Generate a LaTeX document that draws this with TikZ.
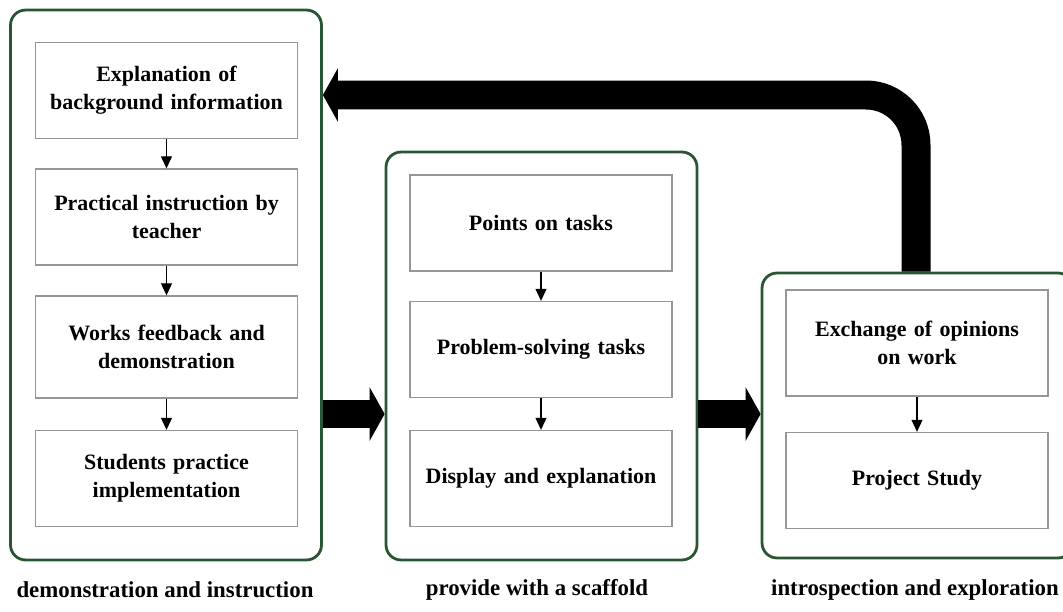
\documentclass[tikz,border=0pt]{standalone}
\usepackage{fontspec}
\setmainfont{Liberation Serif}
\usetikzlibrary{positioning, calc, arrows.meta}
\definecolor{frGreen}{RGB}{40, 85, 50}
\definecolor{frGray}{RGB}{150, 150, 150}
\tikzset{
    base/.style={
        font=\fontsize{12.5}{16}\selectfont\bfseries,
        align=center
    },
    phase/.style={
        rectangle,
        rounded corners=3mm,
        draw=frGreen,
        line width=1.6pt,
        minimum width=6.22cm
    },
    stage/.style={
        base,
        rectangle,
        draw=frGray,
        line width=0.8pt,
        minimum width=5.18cm,
        minimum height=1.92cm,
        text width=5cm
    },
    link/.style={
        -{Triangle[length=2.4mm, width=2.2mm]},
        line width=0.6pt
    },
    bigarrow/.style={
        line width=0.58cm,
        -{Triangle[length=3mm, width=1.06cm]}
    },
    phasename/.style={
        base,
        font=\fontsize{13}{15}\selectfont\bfseries
    }
}

\begin{document}
\begin{tikzpicture}[x=0.02cm, y=-0.02cm]
  \useasboundingbox (0,0) rectangle (1063,612);

  % Outer phases
  \node[phase, minimum height=11cm] (phL) at (166,285) {};
  \node[phase, minimum height=8.16cm] (phM) at (541.5,356) {};
  \node[phase, minimum height=5.7cm] (phR) at (917.5,415.5) {};

  % Stages of the first phase
  \node[stage] (L1) at (166.5,90.5) {Explanation of\\background information};
  \node[stage] (L2) at (166.5,217) {Practical instruction by\\teacher};
  \node[stage, minimum height=2.04cm] (L3) at (166.5,347) {Works feedback and\\demonstration};
  \node[stage] (L4) at (166.5,478.5) {Students practice\\implementation};

  % Stages of the second phase
  \node[stage] (M1) at (541,223) {Points on tasks};
  \node[stage] (M2) at (541,349.5) {Problem-solving tasks};
  \node[stage] (M3) at (541,478.5) {Display and explanation};

  % Stages of the third phase
  \node[stage, minimum height=2.12cm] (R1) at (917,343) {Exchange of opinions\\on work};
  \node[stage] (R2) at (917,480.5) {Project Study};

  % Links inside phases
  \draw[link] (L1) -- (L2);
  \draw[link] (L2) -- (L3);
  \draw[link] (L3) -- (L4);
  \draw[link] (M1) -- (M2);
  \draw[link] (M2) -- (M3);
  \draw[link] (R1) -- (R2);

  % Big arrows between phases
  \coordinate (gap) at ($(M2.south)!0.5!(M3.north)$);
  \coordinate (fb) at (916,95);
  \draw[bigarrow] (phL.east |- gap) -- (phM.west |- gap);
  \draw[bigarrow] (phM.east |- gap) -- (phR.west |- gap);
  \draw[bigarrow, rounded corners=1cm] (phR.north -| fb) |- (phL.east |- fb);

  % Phase names
  \node[phasename] (nL) at (165,590) {demonstration and instruction};
  \node[phasename] (nM) at (537,590) {provide with a scaffold};
  \node[phasename] (nR) at (915,590) {introspection and exploration};
\end{tikzpicture}
\end{document}
